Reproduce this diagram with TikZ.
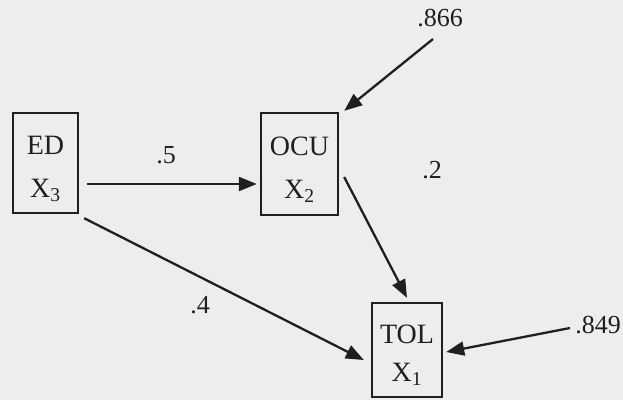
\documentclass[tikz,border=0pt]{standalone}
\usepackage{fontspec}
\setmainfont{Liberation Serif}
\usetikzlibrary{arrows.meta,calc}
\begin{document}
\begin{tikzpicture}[x=1pt,y=-1pt,
  box/.style={draw=black!88,line width=2.4pt,inner sep=0pt},
  txt/.style={anchor=base,inner sep=0pt,font=\fontsize{28}{32}\selectfont,text=black!88},
  arr/.style={draw=black!88,line width=2.3pt,-{Triangle[length=18pt,width=14pt]}},
  lab/.style={anchor=base,inner sep=0pt,font=\fontsize{26}{30}\selectfont,text=black!88}]
\fill[black!7] (0,0) rectangle (623,400);
\useasboundingbox (0,0) rectangle (623,400);
\node[box,minimum width=65pt,minimum height=100pt] (ED) at (45.5,163) {};
\node[box,minimum width=77pt,minimum height=102pt] (OCU) at (299.5,164) {};
\node[box,minimum width=70pt,minimum height=94pt] (TOL) at (407,350) {};
\node[txt] (EDa) at (45.5,154) {ED};
\node[txt] (EDb) at (45.5,197) {X\textsubscript{3}};
\node[txt] (OCUa) at (299.5,155) {OCU};
\node[txt] (OCUb) at (299.5,198) {X\textsubscript{2}};
\node[txt] (TOLa) at (407,343) {TOL};
\node[txt] (TOLb) at (407,381) {X\textsubscript{1}};
\coordinate (e866) at (433,39);
\coordinate (e849) at (570,328);
\draw[arr] ($(ED.east)+(8,21)$) -- ($(OCU.west)+(-3,20)$);
\draw[arr] ($(ED.south east)+(5,4)$) -- ($(TOL.west)+(-7,10)$);
\draw[arr] ($(OCU.east)+(5,13)$) -- ($(TOL.north)+(0,-4)$);
\draw[arr] (e866) -- ($(OCU.north east)+(5,-1)$);
\draw[arr] (e849) -- ($(TOL.east)+(3,2)$);
\node[lab] (l866) at (440,26) {.866};
\node[lab] (l849) at (598,333) {.849};
\node[lab] (l5) at (166,163) {.5};
\node[lab] (l2) at (432,178) {.2};
\node[lab] (l4) at (200,313) {.4};
\end{tikzpicture}
\end{document}
